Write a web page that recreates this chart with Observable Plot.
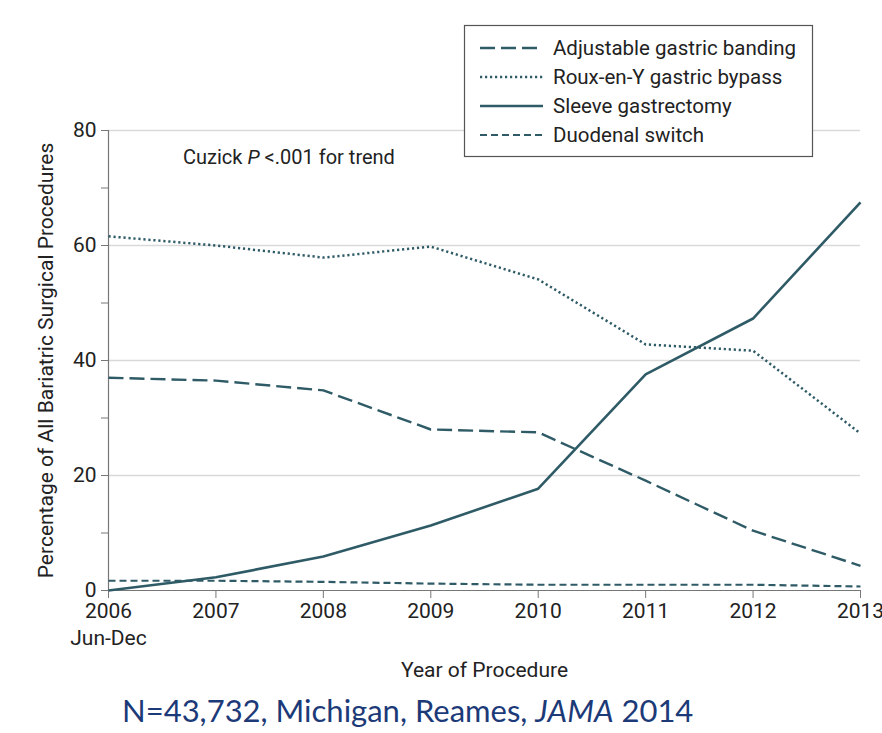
<!DOCTYPE html>
<html><head><meta charset="utf-8">
<script src="https://cdn.jsdelivr.net/npm/d3@7"></script>
<script src="https://cdn.jsdelivr.net/npm/@observablehq/plot@0.6"></script>
<style>
body{margin:0;background:#fff;}
#wrap{position:relative;width:882px;}
#caption{font-family:Lato,"Open Sans",sans-serif;font-size:31px;color:#1c3a78;margin:2px 0 0 122px;line-height:36px;}
</style></head>
<body><div id="wrap"></div><div id="caption">N=43,732, Michigan, Reames, <i>JAMA</i> 2014</div>
<script>
const years = [2006, 2007, 2008, 2009, 2010, 2011, 2012, 2013];
const seriesNames = ["Adjustable gastric banding", "Roux-en-Y gastric bypass", "Sleeve gastrectomy", "Duodenal switch"];
const banding = [37.0, 36.5, 34.8, 28.0, 27.5, 19.1, 10.4, 4.3];
const bypass = [61.6, 60.0, 57.9, 59.8, 54.1, 42.8, 41.7, 27.3];
const sleeve = [0.0, 2.3, 5.9, 11.3, 17.7, 37.6, 47.3, 67.5];
const duodenal = [1.7, 1.7, 1.5, 1.2, 1.0, 1.0, 1.0, 0.7];
const yTicks = [0, 10, 20, 30, 40, 50, 60, 70, 80];
const gridValues = [20, 40, 60, 80];

const color = "#2f5b67";
const dashes = ["15,6", "2.2,2.8", null, "7,4"];
const widths = [2.4, 2.5, 2.6, 2.2];
const values = [banding, bypass, sleeve, duodenal];
const data = [];
seriesNames.forEach((s, i) => years.forEach((y, j) => data.push({series: s, year: y, value: values[i][j], idx: i})));

const font = "Roboto, 'Noto Sans', sans-serif";
const fs = 21;
const lineMarks = seriesNames.map((s, i) => Plot.line(data.filter(d => d.series === s), {
  x: "year", y: "value", stroke: color, strokeWidth: widths[i],
  strokeDasharray: dashes[i] || undefined, strokeLinecap: "butt", strokeLinejoin: "round"
}));

const chart = Plot.plot({
  width: 882, height: 690,
  marginLeft: 108, marginRight: 22, marginTop: 130, marginBottom: 100,
  style: {fontFamily: font, fontSize: fs + "px", color: "#222", background: "#fff"},
  x: {domain: [2006, 2013]},
  y: {domain: [0, 80]},
  marks: [
    Plot.ruleY(gridValues, {stroke: "#d9d9d9", strokeWidth: 1.5}),
    Plot.ruleX([2006], {stroke: "#777", strokeWidth: 1.2}),
    Plot.ruleY([0], {stroke: "#777", strokeWidth: 1.2}),
    Plot.axisY({ticks: yTicks, tickSize: 7, tickPadding: 5, stroke: "#777", color: "#222", fontSize: fs,
      tickFormat: d => d % 20 === 0 ? d : "", label: null}),
    Plot.axisX({ticks: years, tickSize: 8, tickPadding: 5, stroke: "#777", color: "#222", fontSize: fs,
      tickFormat: d => String(d), label: null}),
    Plot.text(["Jun-Dec"], {x: 2006, y: 0, dy: 48, fill: "#222", fontSize: fs}),
    Plot.text(["Year of Procedure"], {frameAnchor: "bottom", textAnchor: "middle", dy: 86, fill: "#222", fontSize: fs}),
    Plot.text(["Percentage of All Bariatric Surgical Procedures"], {frameAnchor: "left", textAnchor: "middle", dx: -62, rotate: -90, fill: "#222", fontSize: fs}),
    ...lineMarks
  ]
});
document.getElementById("wrap").appendChild(chart);

// annotation and legend
const svg = d3.select(chart);
const ann = svg.append("text").attr("x", 183).attr("y", 157).attr("dy", "0.35em").attr("text-anchor", "start")
  .attr("font-family", font).attr("font-size", 20).attr("fill", "#222");
ann.append("tspan").text("Cuzick ");
ann.append("tspan").attr("font-style", "italic").text("P");
ann.append("tspan").text(" <.001 for trend");

const lg = svg.append("g");
lg.append("rect").attr("x", 464.5).attr("y", 25.5).attr("width", 348).attr("height", 131)
  .attr("fill", "#fff").attr("stroke", "#555").attr("stroke-width", 1.2);
seriesNames.forEach((s, i) => {
  const yy = 48 + i * 29;
  lg.append("line").attr("x1", 480).attr("x2", 543).attr("y1", yy).attr("y2", yy)
    .attr("stroke", color).attr("stroke-width", widths[i])
    .attr("stroke-dasharray", dashes[i] || null).attr("stroke-linecap", "butt");
  lg.append("text").attr("x", 553).attr("y", yy).attr("dy", "0.35em").attr("text-anchor", "start")
    .attr("font-family", font).attr("font-size", 20.5).attr("fill", "#222").text(s);
});
</script></body></html>
